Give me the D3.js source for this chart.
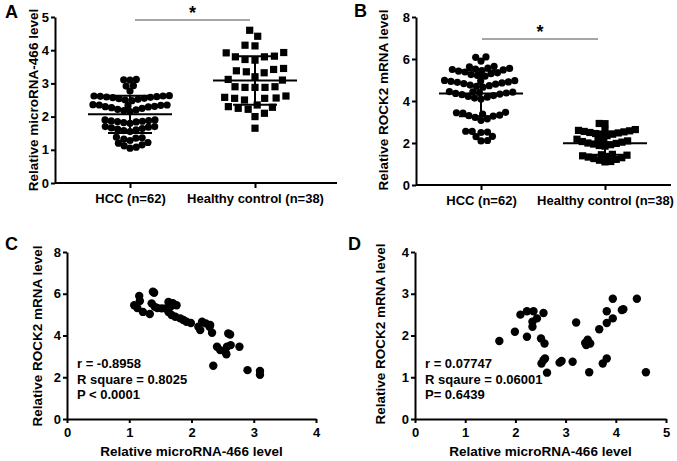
<!DOCTYPE html>
<html><head><meta charset="utf-8">
<script src="https://cdn.jsdelivr.net/npm/d3@7/dist/d3.min.js"></script>
<style>
body{margin:0;background:#fff;}
svg{display:block;font-family:"Liberation Sans",Arial,sans-serif;}
.axis text{font-weight:bold;font-size:13px;fill:#000;}
.axis line,.axis path{stroke:#000;stroke-width:2px;}
</style></head><body>
<svg id="c" width="677" height="461"></svg>
<script>
// ---------- DATA ----------
const groups = ["HCC (n=62)", "Healthy control (n=38)"];
const panelA_HCC = [3.10,3.12,3.11, 2.92,2.93, 2.77,
 2.48,2.50,2.52,2.54,2.55,2.57,2.58,2.59,2.60,2.61,2.62,2.62,2.63,
 2.15,2.18,2.20,2.22,2.25,2.27,2.29,2.30,2.31,2.33,2.34,2.35,2.35,2.36,
 1.80,1.82,1.84,1.85,1.86,1.87,1.88,1.90,1.90,
 1.55,1.58,1.60,1.62,1.64,1.66,1.68,1.70,1.70,
 1.05,1.08,1.12,1.15,1.20,1.22,1.28,1.32,1.35,1.36,1.38];
const panelA_Healthy = [4.60,4.42,4.15,4.13,3.92,3.93,3.82,3.80,3.80,3.72,3.70,
 3.45,3.42,3.38,3.35,3.32,3.20,3.12,3.10,2.90,2.88,2.88,2.90,2.88,
 2.62,2.58,2.56,2.55,2.55,2.50,2.35,2.30,2.28,2.25,2.22,2.10,2.00,1.65];
const panelB_HCC = [6.10,6.08,5.90,5.65,5.63,
 5.18,5.22,5.26,5.30,5.34,5.38,5.42,5.45,5.48,5.50,5.52,5.55,5.57,
 4.66,4.70,4.73,4.76,4.80,4.83,4.86,4.89,4.91,4.93,4.95,4.97,4.98,
 4.10,4.14,4.18,4.22,4.26,4.30,4.33,4.36,4.38,4.40,4.42,4.44,4.45,
 3.08,3.15,3.22,3.28,3.30,3.33,3.38,3.42,3.44,3.46,
 2.10,2.12,2.30,2.32,2.50,2.52,2.55,2.56];
const panelB_Healthy = [2.92,2.93,
 2.35,2.38,2.42,2.45,2.48,2.50,2.53,2.55,2.58,2.60,2.62,2.64,
 1.85,1.88,1.92,1.95,1.98,2.00,2.04,2.07,2.10,2.12,2.15,2.18,
 1.10,1.12,1.18,1.22,1.26,1.30,1.33,1.36,1.39,1.42,1.44,1.46];
const panelC_miR = [1.08,1.13,1.16,1.17,1.22,1.33,1.36,1.38,1.40,1.41,1.45,1.52,1.58,1.63,1.66,1.70,1.76,1.63,1.68,1.74,1.82,1.87,1.92,1.99,2.11,2.14,2.17,2.23,2.29,2.30,2.33,2.59,2.62,2.41,2.46,2.54,2.56,2.57,2.63,2.77,2.35,2.90,3.10,3.10];
const panelC_ROCK2 = [5.45,5.32,5.89,5.65,5.13,5.03,5.54,6.10,6.05,5.37,5.32,5.30,5.30,5.61,5.37,5.55,5.45,5.13,4.98,4.90,4.82,4.74,4.66,4.60,4.42,4.26,4.66,4.58,4.42,4.50,4.13,4.10,4.05,3.46,3.30,3.22,3.10,3.46,3.54,3.46,2.55,2.34,2.30,2.12];
const panelD_miR = [1.68,1.99,2.10,2.23,2.23,2.36,2.34,2.34,2.43,2.56,2.51,2.58,2.52,2.56,2.59,2.63,2.88,2.92,3.14,3.21,3.41,3.44,3.49,3.39,3.47,3.67,3.74,3.82,3.82,3.82,3.94,3.94,4.12,4.15,4.42,4.60];
const panelD_ROCK2 = [1.87,2.09,2.50,2.58,1.97,2.58,2.33,2.21,2.41,2.54,1.93,1.81,1.33,1.41,1.45,1.11,1.35,1.39,1.37,2.31,1.77,1.90,1.81,1.82,1.12,2.15,1.33,1.45,2.58,2.30,2.41,2.88,2.61,2.63,2.88,1.12];
const statsC = ["r = -0.8958", "R square = 0.8025", "P < 0.0001"];
const statsD = ["r = 0.07747", "R sqaure = 0.06001", "P= 0.6439"];
const ticksA = [0,1,2,3,4,5], ticksB = [0,2,4,6,8], ticksCy = [0,2,4,6,8], ticksCx = [0,1,2,3,4], ticksDy = [0,1,2,3,4], ticksDx = [0,1,2,3,4,5];

// ---------- HELPERS ----------
const svg = d3.select("#c");
const fmt = d3.format("d");

function beeswarm(values, y, d) {
  const pts = values.map(v => ({v, y: y(v)})).sort((a,b) => a.v - b.v);
  const placed = [];
  let flip = 1;
  for (const p of pts) {
    const blocks = [];
    for (const q of placed) {
      const dy = Math.abs(q.y - p.y);
      if (dy < d) { const w = Math.sqrt(d*d - dy*dy); blocks.push([q.x - w, q.x + w]); }
    }
    const cands = [0];
    blocks.forEach(b => cands.push(b[0], b[1]));
    const valid = cands.filter(c => blocks.every(b => c <= b[0] + 1e-6 || c >= b[1] - 1e-6));
    valid.sort((a,b) => {
      const da = Math.abs(a) - Math.abs(b);
      if (Math.abs(da) > 0.3) return da;
      return flip > 0 ? b - a : a - b;
    });
    p.x = valid[0];
    if (p.x !== 0) flip = -flip;
    placed.push(p);
  }
  return pts;
}

function yTitle(g, text, x, y) {
  g.append("text").attr("transform", `translate(${x},${y}) rotate(-90)`)
    .attr("text-anchor","middle").attr("font-weight","bold").attr("font-size","13.5px").text(text);
}
function letter(text, x, y) {
  svg.append("text").attr("x",x).attr("y",y).attr("font-weight","bold").attr("font-size","18px").text(text);
}

function dotPanel(opt) {
  const g = svg.append("g");
  const y = d3.scaleLinear().domain(opt.ydom).range(opt.yrange);
  const x = d3.scalePoint().domain(groups).range(opt.xcat);
  g.append("g").attr("class","axis").attr("transform",`translate(${opt.x0},0)`)
    .call(d3.axisLeft(y).tickValues(opt.ticks).tickFormat(fmt).tickSize(4).tickPadding(2).tickSizeOuter(0));
  const xa = g.append("g").attr("class","axis").attr("transform",`translate(0,${opt.yrange[0]})`)
    .call(d3.axisBottom(x).tickSize(5).tickPadding(6).tickSizeOuter(0));
  xa.select(".domain").remove();
  xa.selectAll("text").attr("dy","0.71em");
  g.append("line").attr("x1",opt.x0).attr("x2",opt.x1).attr("y1",opt.yrange[0]).attr("y2",opt.yrange[0])
    .attr("stroke","#000").attr("stroke-width",2);
  const hcc = beeswarm(opt.hcc, y, opt.dH);
  g.selectAll(".h").data(hcc).enter().append("circle")
    .attr("cx", d => x(groups[0]) + d.x).attr("cy", d => d.y).attr("r", 3.6).attr("fill","#000");
  const hc = beeswarm(opt.ctl, y, opt.dC);
  g.selectAll(".s").data(hc).enter().append("rect")
    .attr("x", d => x(groups[1]) + d.x - 3.6).attr("y", d => d.y - 3.6)
    .attr("width", 7.2).attr("height", 7.2).attr("fill","#000");
  [[groups[0], opt.hcc],[groups[1], opt.ctl]].forEach(([k, vals]) => {
    const m = d3.mean(vals), s = d3.deviation(vals), cx = x(k);
    g.append("line").attr("x1",cx-42).attr("x2",cx+42).attr("y1",y(m)).attr("y2",y(m)).attr("stroke","#000").attr("stroke-width",2);
    g.append("line").attr("x1",cx).attr("x2",cx).attr("y1",y(m+s)).attr("y2",y(m-s)).attr("stroke","#000").attr("stroke-width",2);
    [m+s, m-s].forEach(v => g.append("line").attr("x1",cx-22).attr("x2",cx+22).attr("y1",y(v)).attr("y2",y(v)).attr("stroke","#000").attr("stroke-width",2));
  });
  g.append("line").attr("x1",opt.sig[0]).attr("x2",opt.sig[1]).attr("y1",opt.sig[2]).attr("y2",opt.sig[2])
    .attr("stroke","#888").attr("stroke-width",1.5);
  g.append("text").attr("x",(opt.sig[0]+opt.sig[1])/2).attr("y",opt.sig[2]-1).attr("text-anchor","middle")
    .attr("font-weight","bold").attr("font-size","18px").text("*");
  yTitle(g, opt.title, opt.tx, opt.ty);
}

function scatterPanel(opt) {
  const g = svg.append("g");
  const x = d3.scaleLinear().domain(opt.xdom).range(opt.xrange);
  const y = d3.scaleLinear().domain(opt.ydom).range(opt.yrange);
  g.append("g").attr("class","axis").attr("transform",`translate(${opt.xrange[0]},0)`)
    .call(d3.axisLeft(y).tickValues(opt.yticks).tickFormat(fmt).tickSize(4).tickPadding(2).tickSizeOuter(0));
  g.append("g").attr("class","axis").attr("transform",`translate(0,${opt.yrange[0]})`)
    .call(d3.axisBottom(x).tickValues(opt.xticks).tickFormat(fmt).tickSize(4).tickPadding(5).tickSizeOuter(0));
  g.selectAll("circle").data(opt.xs.map((v,i)=>[v,opt.ys[i]])).enter().append("circle")
    .attr("cx", d => x(d[0])).attr("cy", d => y(d[1])).attr("r", 4.2).attr("fill","#000");
  opt.stats.forEach((t,i) => g.append("text").attr("x",opt.sx).attr("y",opt.sy + i*15.5)
    .attr("font-weight","bold").attr("font-size","13px").text(t));
  yTitle(g, "Relative ROCK2 mRNA level", opt.tx, opt.ty);
  g.append("text").attr("x",(opt.xrange[0]+opt.xrange[1])/2).attr("y",456).attr("text-anchor","middle")
    .attr("font-weight","bold").attr("font-size","13.5px").text("Relative microRNA-466 level");
}

// ---------- PANELS ----------
letter("A", 5, 18);
dotPanel({ydom:[0,5], yrange:[183,17], xcat:[130,255], x0:55, x1:337, ticks:ticksA,
  hcc:panelA_HCC, ctl:panelA_Healthy, dH:6.3, dC:10, sig:[135,250,20],
  title:"Relative microRNA-466 level", tx:38, ty:100});
letter("B", 354, 17);
dotPanel({ydom:[0,8], yrange:[185,17], xcat:[481,605], x0:416, x1:671, ticks:ticksB,
  hcc:panelB_HCC, ctl:panelB_Healthy, dH:6.5, dC:5.8, sig:[482,598,39],
  title:"Relative ROCK2 mRNA level", tx:388, ty:100});
letter("C", 5, 250);
scatterPanel({xdom:[0,4], xrange:[67,316], ydom:[0,8], yrange:[419,252], xticks:ticksCx, yticks:ticksCy,
  xs:panelC_miR, ys:panelC_ROCK2, stats:statsC, sx:77, sy:368, tx:42, ty:336});
letter("D", 348, 250);
scatterPanel({xdom:[0,5], xrange:[415,666], ydom:[0,4], yrange:[419,252], xticks:ticksDx, yticks:ticksDy,
  xs:panelD_miR, ys:panelD_ROCK2, stats:statsD, sx:425, sy:368, tx:385, ty:334});
</script></body></html>
